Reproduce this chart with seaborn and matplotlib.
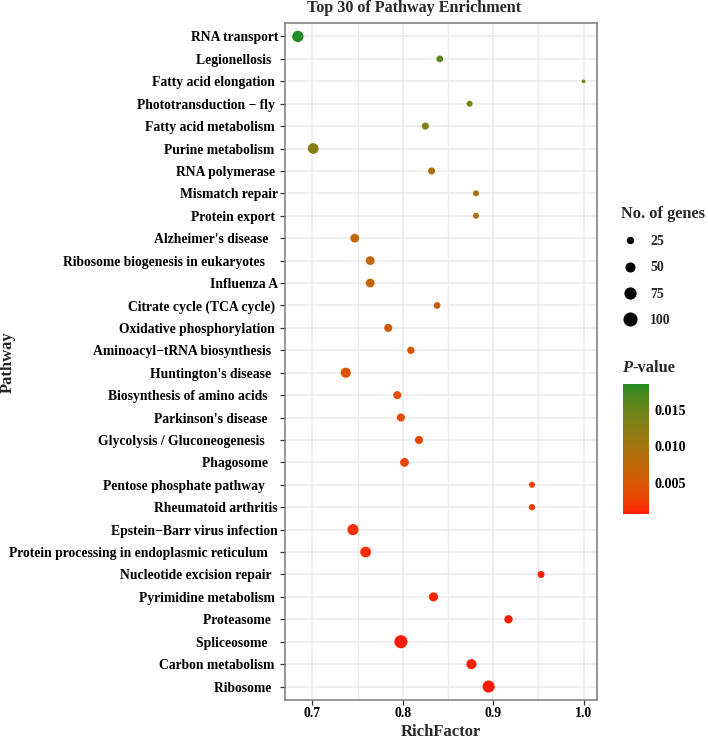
import numpy as np
import pandas as pd
import matplotlib
matplotlib.use("Agg")
import matplotlib.pyplot as plt
import seaborn as sns
from matplotlib.colors import ListedColormap, Normalize
from matplotlib.lines import Line2D
import matplotlib.cm as cm

# ---------------- data ----------------
pathways = [
    "RNA transport", "Legionellosis  ", "Fatty acid elongation ", "Phototransduction \u2212 fly ",
    "Fatty acid metabolism ", "Purine metabolism ", "RNA polymerase ", "Mismatch repair",
    "Protein export ", "Alzheimer's disease   ", "Ribosome biogenesis in eukaryotes    ",
    "Influenza A", "Citrate cycle (TCA cycle) ", "Oxidative phosphorylation ",
    "Aminoacyl\u2212tRNA biosynthesis  ", "Huntington's disease  ", "Biosynthesis of amino acids   ",
    "Parkinson's disease   ", "Glycolysis / Gluconeogenesis    ", "Phagosome   ",
    "Pentose phosphate pathway    ", "Rheumatoid arthritis", "Epstein\u2212Barr virus infection",
    "Protein processing in endoplasmic reticulum   ", "Nucleotide excision repair  ",
    "Pyrimidine metabolism ", "Proteasome  ", "Spliceosome   ", "Carbon metabolism ", "Ribosome  ",
]
rich_factor = [
    0.684, 0.841, 1.000, 0.874, 0.825, 0.701, 0.832, 0.881, 0.881, 0.747,
    0.764, 0.764, 0.838, 0.784, 0.809, 0.737, 0.794, 0.798, 0.818, 0.802,
    0.943, 0.943, 0.745, 0.759, 0.953, 0.834, 0.917, 0.798, 0.876, 0.895,
]
gene_counts = [
    64, 21, 4, 16, 23, 57, 23, 16, 16, 37,
    37, 37, 21, 31, 25, 50, 31, 31, 31, 37,
    16, 18, 61, 57, 23, 40, 33, 86, 50, 73,
]
p_values = [
    0.0186, 0.0160, 0.0142, 0.0135, 0.0130, 0.0125, 0.0095, 0.0090, 0.0090, 0.0075,
    0.0072, 0.0070, 0.0066, 0.0053, 0.0046, 0.0043, 0.0040, 0.0037, 0.0033, 0.0030,
    0.0025, 0.0022, 0.0015, 0.0013, 0.0010, 0.0009, 0.0008, 0.0007, 0.0007, 0.0006,
]
size_breaks = [25, 50, 75, 100]
pval_ticks = [0.005, 0.010, 0.015]

# ---------------- colour scale (Lab interpolation, like ggplot) ----------------
M = np.array([[0.4124564, 0.3575761, 0.1804375],
              [0.2126729, 0.7151522, 0.0721750],
              [0.0193339, 0.1191920, 0.9503041]])
WHITE = np.array([0.95047, 1.0, 1.08883])

def srgb_to_lab(rgb):
    c = np.asarray(rgb, float)
    lin = np.where(c <= 0.04045, c / 12.92, ((c + 0.055) / 1.055) ** 2.4)
    xyz = M @ lin / WHITE
    d = 6 / 29
    f = np.where(xyz > d ** 3, np.cbrt(xyz), xyz / (3 * d * d) + 4 / 29)
    return np.array([116 * f[1] - 16, 500 * (f[0] - f[1]), 200 * (f[1] - f[2])])

def lab_to_srgb(lab):
    L, a, b = lab
    fy = (L + 16) / 116
    f = np.array([fy + a / 500, fy, fy - b / 200])
    d = 6 / 29
    xyz = np.where(f > d, f ** 3, 3 * d * d * (f - 4 / 29)) * WHITE
    lin = np.clip(np.linalg.solve(M, xyz), 0, 1)
    return np.clip(np.where(lin <= 0.0031308, 12.92 * lin, 1.055 * lin ** (1 / 2.4) - 0.055), 0, 1)

low_lab = srgb_to_lab(np.array([0xFF, 0x1A, 0x00]) / 255)
high_lab = srgb_to_lab(np.array([0x22, 0x8B, 0x22]) / 255)
cmap = ListedColormap([lab_to_srgb(low_lab + t * (high_lab - low_lab)) for t in np.linspace(0, 1, 256)])
norm = Normalize(vmin=min(p_values), vmax=max(p_values))

df = pd.DataFrame({"Pathway": pathways, "RichFactor": rich_factor,
                   "Genes": gene_counts, "P": p_values})

# ---------------- figure ----------------
sns.set_theme(style="white")
plt.rcParams["font.family"] = ["Liberation Serif", "DejaVu Serif"]
plt.rcParams["font.weight"] = "bold"

W, H = 708, 739
fig = plt.figure(figsize=(W / 100, H / 100), dpi=100)
ax = fig.add_axes([285 / W, 1 - 700 / H, (597 - 285) / W, (700 - 23) / H])

size_rng = (3, 103)
sns.scatterplot(data=df, x="RichFactor", y="Pathway", hue="P", palette=cmap, hue_norm=norm,
                size="Genes", sizes=size_rng, size_norm=(0, 100), linewidth=0,
                legend=False, ax=ax, zorder=3)

n = len(pathways)
ax.set_ylim(n - 1 + 0.6, -0.6)
ax.set_xlim(0.6698, 1.0149)
ax.set_xticks([0.7, 0.8, 0.9, 1.0])
ax.set_xticklabels(["0.7", "0.8", "0.9", "1.0"])
ax.set_xticks([0.75, 0.85, 0.95], minor=True)
ax.set_axisbelow(True)
ax.grid(True, which="major", color="#EBEBEB", linewidth=1.1)
ax.grid(True, which="minor", axis="x", color="#EBEBEB", linewidth=1.0)
for s in ax.spines.values():
    s.set_color("#7A7A7A")
    s.set_linewidth(1.1)
ax.tick_params(axis="both", which="major", length=3.5, width=0.9, color="#333333",
               labelsize=9.8, pad=1.5, labelcolor="black", bottom=True, left=True)
ax.tick_params(which="minor", length=0)
for lab in ax.get_xticklabels() + ax.get_yticklabels():
    lab.set_fontweight("bold")
ax.set_xlabel("RichFactor", fontsize=12, fontweight="bold", labelpad=3)
ax.set_ylabel("")
fig.text(8 / W, 1 - 362 / H, "Pathway", rotation=90, ha="center", va="center",
         fontsize=12, fontweight="bold")

fig.text(414 / W, 1 - 8 / H, "Top 30 of Pathway Enrichment", ha="center", va="center",
         fontsize=11.6, fontweight="bold")

# ---------------- size legend ----------------
handles = [Line2D([], [], marker="o", linestyle="", color="black", markeredgewidth=0,
                  markersize=np.sqrt(size_rng[0] + (size_rng[1] - size_rng[0]) * b / 100))
           for b in size_breaks]
leg = fig.legend(handles, [str(b) for b in size_breaks], title="No. of genes",
                 loc="upper left", bbox_to_anchor=(621 / W, 1 - 206 / H), frameon=False,
                 fontsize=10, title_fontsize=11.8, labelspacing=0.95, handletextpad=0.8,
                 borderpad=0, borderaxespad=0, handlelength=1.3, alignment="left")
for t in leg.get_texts():
    t.set_fontweight("bold")
leg.get_title().set_fontweight("bold")

# ---------------- colour bar ----------------
cax = fig.add_axes([622.7 / W, 1 - 514.3 / H, 26.6 / W, 130 / H])
sm = cm.ScalarMappable(norm=norm, cmap=cmap)
cb = fig.colorbar(sm, cax=cax, ticks=pval_ticks)
cb.outline.set_visible(False)
cb.ax.set_yticklabels([f"{v:.3f}" for v in pval_ticks])
cb.ax.tick_params(direction="in", length=4, width=0.8, color="white", left=True, right=True,
                  labelsize=10.2, pad=4, labelcolor="black")
for lab in cb.ax.get_yticklabels():
    lab.set_fontweight("bold")

tP = fig.text(622 / W, 1 - 368 / H, "P", fontsize=11.8, fontweight="bold", style="italic",
              ha="left", va="center")
fig.canvas.draw()
bb = tP.get_window_extent()
fig.text(bb.x1 / W, 1 - 368 / H, "-value", fontsize=11.8, fontweight="bold",
         ha="left", va="center")

fig.savefig("out.png", dpi=100)
